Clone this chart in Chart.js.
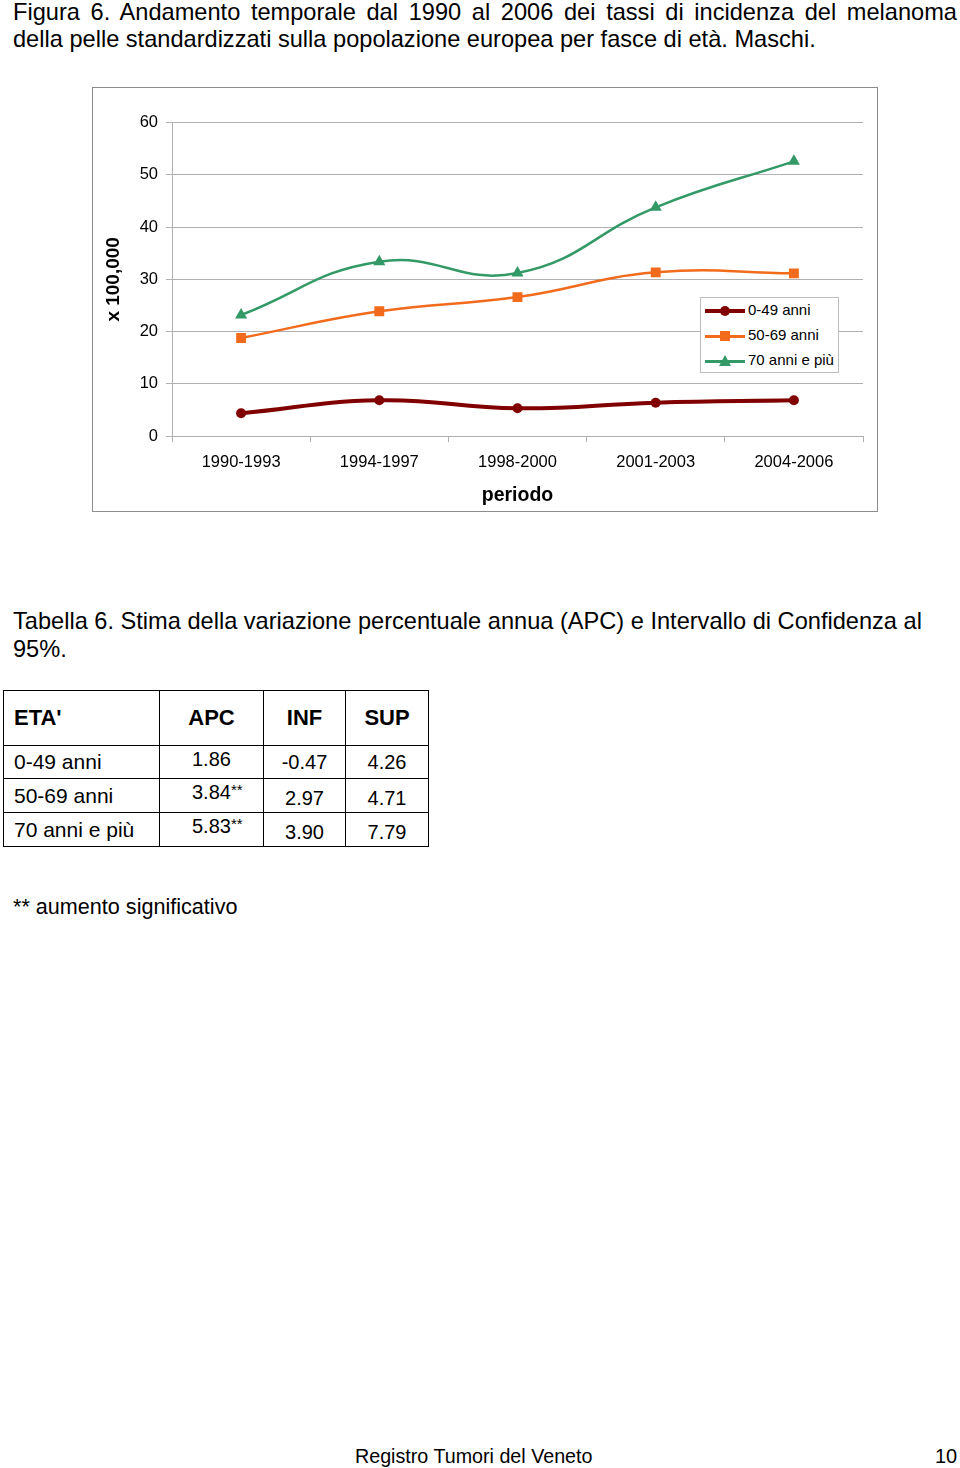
<!DOCTYPE html>
<html><head><meta charset="utf-8">
<script src="https://cdn.jsdelivr.net/npm/chart.js@4/dist/chart.umd.min.js"></script>
<style>
body{margin:0;width:960px;height:1468px;background:#fff;position:relative;font-family:"Liberation Sans",Arial,sans-serif;color:#000;overflow:hidden}
.abs{position:absolute}
.tl{position:absolute;left:13px;font-family:"Liberation Sans Narrow","Liberation Sans",Arial,sans-serif;font-size:23.6px;line-height:27px;white-space:nowrap}
#t1{top:-1px;width:944px;text-align:justify;text-align-last:justify;white-space:normal}
#t2{top:26px}
#chartbox{left:92px;top:87px;width:784px;height:423px;border:1px solid #8c8c8c}
#cv{position:absolute;left:-1px;top:-1px}
#legend{left:700px;top:297px;width:137px;height:74px;border:1px solid #bdbdbd;background:#fff;font-size:15px}
.li{position:absolute;left:4px;height:25px;width:135px}
.li .ln{position:absolute;left:0;top:11px;width:40px;height:3px}
.li .mk{position:absolute}
.li span{position:absolute;left:43px;top:3px;white-space:nowrap}
#tab6{left:13px;top:607px;width:945px;font-size:23.6px;line-height:28px}
table{position:absolute;left:3px;top:690px;border-collapse:collapse;font-size:20px}
td{border:1.5px solid #000;padding:0;height:33px;box-sizing:border-box}
</style></head><body>
<div id="t1" class="tl">Figura 6. Andamento temporale dal 1990 al 2006 dei tassi di incidenza del melanoma</div>
<div id="t2" class="tl">della pelle standardizzati sulla popolazione europea per fasce di età. Maschi.</div>
<div id="chartbox" class="abs"><canvas id="cv" width="786" height="425"></canvas></div>
<div id="legend" class="abs"></div>
<div id="tab6" class="abs">Tabella 6. Stima della variazione percentuale annua (APC) e Intervallo di Confidenza al<br>95%.</div>
<table id="tbl"></table>
<div class="abs" style="left:13px;top:894px;font-size:21.6px">** aumento significativo</div>
<div class="abs" style="left:355px;top:1445px;font-size:19.7px">Registro Tumori del Veneto</div>
<div class="abs" style="left:935px;top:1445px;font-size:20px">10</div>
<script>
const periods = ["1990-1993","1994-1997","1998-2000","2001-2003","2004-2006"];
const seriesNames = ["0-49 anni","50-69 anni","70 anni e più"];
const age0_49 = [4.35, 6.83, 5.3, 6.38, 6.83];
const age50_69 = [18.77, 23.88, 26.6, 31.34, 31.15];
const age70plus = [23.17, 33.38, 31.2, 43.8, 52.6];
const yTicks = [0,10,20,30,40,50,60];

const tableHeader = ["ETA'","APC","INF","SUP"];
const tableAge = ["0-49 anni","50-69 anni","70 anni e più"];
const tableAPC = ["1.86","3.84**","5.83**"];
const tableINF = ["-0.47","2.97","3.90"];
const tableSUP = ["4.26","4.71","7.79"];

const colors = ["#800000","#f26b1d","#339966"];
const styles = ["circle","rect","triangle"];
const widths = [4,2.5,2.5];
const radii = [5,7,7];

const FONT = "'Liberation Sans', Arial, sans-serif";
new Chart(document.getElementById('cv'), {
  type:'line',
  data:{labels:periods, datasets:[age0_49,age50_69,age70plus].map((d,i)=>({
    label:seriesNames[i], data:d, borderColor:colors[i], backgroundColor:colors[i],
    borderWidth:widths[i], pointStyle:styles[i], pointRadius:radii[i], pointBorderWidth:0,
    pointBackgroundColor:colors[i], tension:0.45, fill:false
  }))},
  options:{
    responsive:false, animation:false, devicePixelRatio:1,
    layout:{padding:{top:35.7,left:0,right:15,bottom:0}},
    plugins:{legend:{display:false},tooltip:{enabled:false}},
    scales:{
      x:{offset:true,
        grid:{display:true,drawOnChartArea:false,drawTicks:true,tickLength:6,offset:true,color:'#b0b0b0'},
        border:{color:'#b0b0b0'},
        ticks:{font:{family:FONT,size:16.5},color:'#000',padding:11,maxRotation:0},
        title:{display:true,text:'periodo',font:{family:FONT,size:19.5,weight:'bold'},color:'#000',padding:{top:0,bottom:5}},
        afterFit:s=>{s.height=76;}
      },
      y:{min:0,max:60,
        afterBuildTicks:s=>{s.ticks=yTicks.map(v=>({value:v}));},
        grid:{color:'#b0b0b0',tickLength:6},
        border:{color:'#b0b0b0'},
        ticks:{font:{family:FONT,size:16.5},color:'#000',padding:8},
        title:{display:true,text:'x 100,000',font:{family:FONT,size:19,weight:'bold'},color:'#000',padding:{top:10,bottom:0}},
        afterFit:s=>{s.width=80;}
      }
    }
  }
});

// legend
const lg=document.getElementById('legend');
seriesNames.forEach((n,i)=>{
  const d=document.createElement('div');d.className='li';d.style.top=(i*25)+'px';
  const ln=document.createElement('div');ln.className='ln';ln.style.background=colors[i];ln.style.height=(i==0?4:2.5)+'px';ln.style.top=(i==0?11:12)+'px';
  const mk=document.createElement('div');mk.className='mk';
  if(i==0){mk.style.cssText+='left:15px;top:8px;width:10px;height:10px;border-radius:50%;background:'+colors[i];}
  else if(i==1){mk.style.cssText+='left:15px;top:8px;width:10px;height:10px;background:'+colors[i];}
  else{mk.style.cssText+='left:14px;top:7px;width:0;height:0;border-left:6px solid transparent;border-right:6px solid transparent;border-bottom:11px solid '+colors[i];}
  const sp=document.createElement('span');sp.textContent=n;
  d.appendChild(ln);d.appendChild(mk);d.appendChild(sp);lg.appendChild(d);
});

// table
const tb=document.getElementById('tbl');
const colW=[156,104,82,83];
let tr=document.createElement('tr');
tableHeader.forEach((h,j)=>{const td=document.createElement('td');td.textContent=h;td.style.cssText='width:'+colW[j]+'px;height:55px;font-weight:bold;font-size:22px;'+(j==0?'padding-left:10px;text-align:left':'text-align:center');tr.appendChild(td);});
tb.appendChild(tr);
tableAge.forEach((a,i)=>{
  tr=document.createElement('tr');
  const cells=[a,tableAPC[i],tableINF[i],tableSUP[i]];
  cells.forEach((c,j)=>{const td=document.createElement('td');td.style.height=(i==0?33:34)+'px';
    if(j==0){td.textContent=c;td.style.paddingLeft='10px';td.style.fontSize='21px';}
    else if(j==1){td.style.paddingLeft='32px';td.style.verticalAlign='top';td.style.paddingTop='2px';
      const m=c.match(/^([\d.\-]+)(\**)$/);td.innerHTML=m[1]+(m[2]?'<sup style="font-size:15px;vertical-align:0;position:relative;top:-4px">'+m[2]+'</sup>':'');}
    else{td.textContent=c;td.style.textAlign='center';if(i>0){td.style.paddingTop='6px';}}
    tr.appendChild(td);});
  tb.appendChild(tr);
});
</script>
</body></html>
